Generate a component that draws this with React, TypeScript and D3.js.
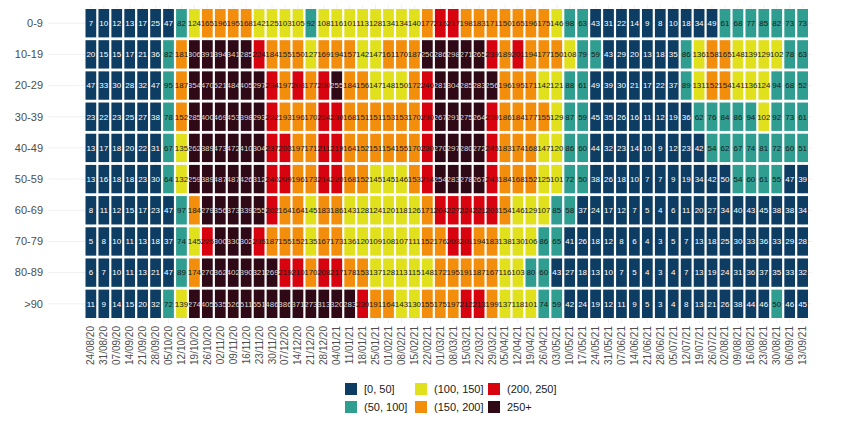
import * as d3 from 'd3';
import * as React from 'react';

// weekly incidence per 100k by age group
const weeks = [
    '24/08/20', '31/08/20', '07/09/20', '14/09/20', '21/09/20', '28/09/20', '05/10/20', '12/10/20',
    '19/10/20', '26/10/20', '02/11/20', '09/11/20', '16/11/20', '23/11/20', '30/11/20', '07/12/20',
    '14/12/20', '21/12/20', '28/12/20', '04/01/21', '11/01/21', '18/01/21', '25/01/21', '01/02/21',
    '08/02/21', '15/02/21', '22/02/21', '01/03/21', '08/03/21', '15/03/21', '22/03/21', '29/03/21',
    '05/04/21', '12/04/21', '19/04/21', '26/04/21', '03/05/21', '10/05/21', '17/05/21', '24/05/21',
    '31/05/21', '07/06/21', '14/06/21', '21/06/21', '28/06/21', '05/07/21', '12/07/21', '19/07/21',
    '26/07/21', '02/08/21', '09/08/21', '16/08/21', '23/08/21', '30/08/21', '06/09/21', '13/09/21',
];

const ageGroups = ['0-9', '10-19', '20-29', '30-39', '40-49', '50-59', '60-69', '70-79', '80-89', '>90'];

const age0to9 = [7, 10, 12, 13, 17, 25, 47, 82, 124, 165, 196, 195, 168, 142, 125, 103, 105, 92, 108, 116, 101, 113, 128, 134, 134, 140, 177, 215, 217, 198, 183, 171, 150.4, 165, 196, 175, 146, 98, 63, 43, 31, 22, 14, 9, 8, 10, 18, 34, 49, 61, 68, 77, 85, 82, 73, 73];
const age10to19 = [20, 15, 15, 17, 21, 36, 82, 181, 306, 391, 394, 341, 285, 224, 184, 155, 150.4, 127, 169, 194, 157, 142, 147, 161, 170, 187, 250.4, 286, 298, 271, 265, 239, 189, 201, 194, 177, 150.4, 108, 79, 59, 43, 29, 20, 13, 18, 35, 86, 136, 158, 165, 148, 139, 129, 102, 78, 63];
const age20to29 = [47, 33, 30, 28, 32, 47, 95, 187, 354, 470, 521, 484, 405, 297, 234, 197, 203, 177, 230, 255, 184, 156, 147, 148, 150, 172, 240, 281, 304, 285, 283, 256, 196, 195, 171, 142, 121, 88, 61, 49, 39, 30, 21, 17, 22, 37, 89, 131, 152, 154, 141, 136, 124, 94, 68, 52];
const age30to39 = [23, 22, 23, 25, 27, 38, 78, 152, 285, 400, 469, 453, 398, 293, 232, 193, 196, 170, 224, 230, 168, 151, 151, 153, 153, 170, 230, 267, 291, 275, 264, 239, 186, 184, 177, 155, 129, 87, 59, 45, 35, 26, 16, 11, 12, 19, 36, 62, 76, 84, 86, 94, 102, 92, 73, 61];
const age40to49 = [13, 17, 18, 20, 22, 31, 67, 135, 262, 389, 473, 472, 410, 304, 237, 203, 197, 171, 211, 219, 164, 152, 151, 154, 155, 170, 230, 270, 297, 280, 272, 245, 183, 174, 168, 147, 120, 86, 60, 44, 32, 23, 14, 10, 9, 12, 23, 42, 54, 62, 67, 74, 81, 72, 60, 51];
const age50to59 = [13, 16, 18, 18, 23, 30, 64, 132, 259, 389, 487, 487, 426, 312, 240, 209, 196, 173, 214, 220, 168, 152, 145, 145, 146, 153, 214, 254, 283, 278, 267, 243, 184, 168, 152, 125, 101, 72, 50.3, 38, 26, 18, 10, 7, 7, 9, 19, 34, 42, 50, 54, 60, 61, 55, 47, 39];
const age60to69 = [8, 11, 12, 15, 17, 23, 47, 97, 184, 279, 356, 373, 339, 255, 202, 164, 164, 145, 183, 186, 143, 128, 124, 120, 118, 126, 171, 204, 227, 224, 221, 203, 154, 146, 129, 107, 85, 58, 37, 24, 17, 12, 7, 5, 4, 6, 11, 20, 27, 34, 40, 43, 45, 38, 38, 34];
const age70to79 = [5, 8, 10, 11, 13, 18, 37, 74, 145, 225, 300, 330, 302, 235, 187, 155, 152, 135, 167, 173, 136, 120, 109, 108, 107, 111, 152, 176, 203, 201, 194, 183, 138, 130, 106, 86, 65, 41, 26, 18, 12, 8, 6, 4, 3, 5, 7, 13, 18, 25, 30, 33, 36, 33, 29, 28];
const age80to89 = [6, 7, 10, 11, 13, 21, 47, 89, 174, 270, 362, 402, 390, 321, 269, 219, 210, 170, 208, 217, 178, 153, 137, 128, 113, 115, 148, 172, 195, 191, 187, 167, 116, 103, 80, 60, 43, 27, 18, 13, 10, 7, 5, 4, 3, 4, 7, 13, 19, 24, 31, 36, 37, 35, 33, 32];
const age90plus = [11, 9, 14, 15, 20, 32, 72, 139, 274, 405, 535, 526, 511, 551, 486, 386, 371, 273, 313, 320, 283, 230, 191, 164, 143, 130, 155, 175, 197, 212, 213, 199, 137, 118, 101, 74, 59, 42, 24, 19, 12, 11, 9, 5, 3, 4, 8, 13, 21, 26, 38, 44, 46, 50.4, 46, 45];

const binBreaks = [50, 100, 150, 200, 250];
const binLabels = ['[0, 50]', '(50, 100]', '(100, 150]', '(150, 200]', '(200, 250]', '250+'];
const binColors = ['#0e3d63', '#2f9e91', '#e0e01c', '#f28e0c', '#d7030f', '#2f0915'];

const rows = [age0to9, age10to19, age20to29, age30to39, age40to49, age50to59, age60to69, age70to79, age80to89, age90plus];

const W = 850;
const H = 425;
const font = 'Liberation Sans, Arial, sans-serif';

const binOf = (v: number) => d3.bisectLeft(binBreaks, v);

export default function App() {
    const x = d3.scaleBand<string>()
        .domain(weeks)
        .range([85.5, 808])
        .paddingInner(0.17);
    const y = d3.scaleBand<string>()
        .domain(ageGroups)
        .range([9, 318])
        .paddingInner(0.09);

    const cells = rows.flatMap((vals, r) => vals.map((v, c) => ({
        age: ageGroups[r], week: weeks[c], value: v, bin: binOf(v),
    })));

    // legend laid out as 3 columns x 2 rows, filled column-wise like ggplot
    const legendCols = [345, 415, 488];
    const legendRows = [383, 401];

    return (
        <div style={{ position: 'absolute', left: 0, top: 0 }}>
            <svg width={W} height={H} style={{ display: 'block', background: '#fff' }}>
                <g stroke="#ececec" strokeWidth={0.8}>
                    {ageGroups.map(a => (
                        <line key={a} x1={48} x2={812}
                            y1={y(a)! + y.bandwidth() / 2} y2={y(a)! + y.bandwidth() / 2} />
                    ))}
                    {weeks.map(w => (
                        <line key={w} y1={5} y2={323}
                            x1={x(w)! + x.bandwidth() / 2} x2={x(w)! + x.bandwidth() / 2} />
                    ))}
                </g>
                <g>
                    {cells.map(d => (
                        <rect key={d.age + d.week} x={x(d.week)} y={y(d.age)}
                            width={x.bandwidth()} height={y.bandwidth()} fill={binColors[d.bin]} />
                    ))}
                </g>
                <g fontFamily={font} fontSize={8} textAnchor="middle">
                    {cells.map(d => (
                        <text key={d.age + d.week} x={x(d.week)! + x.bandwidth() / 2}
                            y={y(d.age)! + y.bandwidth() / 2} dy="0.35em"
                            fill={d.bin === 0 ? '#ffffff' : d.bin === 5 ? '#d8d8d8' : '#1a1a1a'}>
                            {Math.round(d.value)}
                        </text>
                    ))}
                </g>
                <g fontFamily={font} fontSize={11} fill="#4d4d4d" textAnchor="end">
                    {ageGroups.map(a => (
                        <text key={a} x={43} y={y(a)! + y.bandwidth() / 2} dy="0.35em">{a}</text>
                    ))}
                </g>
                <g fontFamily={font} fontSize={10} fill="#4d4d4d" textAnchor="end">
                    {weeks.map(w => {
                        const cx = x(w)! + x.bandwidth() / 2;
                        return (
                            <text key={w} transform={`translate(${cx},326) rotate(-90)`} dy="0.35em">{w}</text>
                        );
                    })}
                </g>
                <g fontFamily={font} fontSize={11} fill="#1a1a1a">
                    {binLabels.map((lab, i) => {
                        const lx = legendCols[Math.floor(i / 2)];
                        const ly = legendRows[i % 2];
                        return (
                            <g key={lab} transform={`translate(${lx},${ly})`}>
                                <rect width={12} height={12} fill={binColors[i]} />
                                <text x={19} y={6} dy="0.35em">{lab}</text>
                            </g>
                        );
                    })}
                </g>
            </svg>
        </div>
    );
}
